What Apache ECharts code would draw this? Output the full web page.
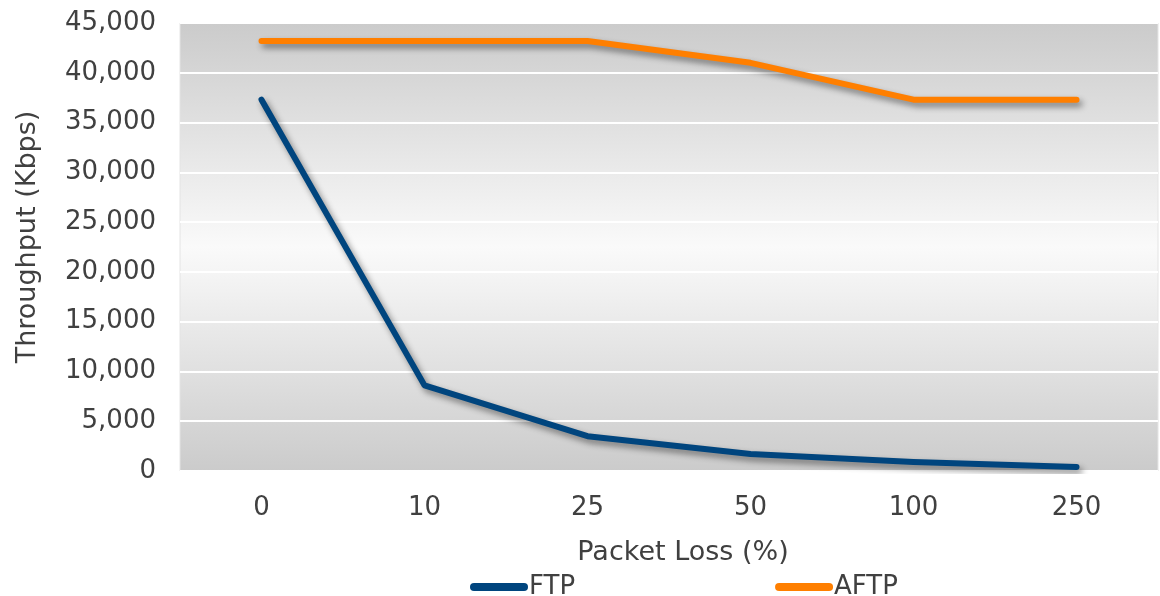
<!DOCTYPE html>
<html><head><meta charset="utf-8">
<script src="https://cdn.jsdelivr.net/npm/echarts@6/dist/echarts.min.js"></script>
<style>html,body{margin:0;padding:0;background:#fff}#c{width:1160px;height:596px}</style>
</head><body><div id="c"></div>
<script>
const categories = ['0', '10', '25', '50', '100', '250'];
const ftp = [37300, 8600, 3500, 1700, 900, 400];
const aftp = [43200, 43200, 43200, 41000, 37300, 37300];
const seriesNames = ['FTP', 'AFTP'];
const yTicks = { min: 0, max: 45000, interval: 5000 };

const chart = echarts.init(document.getElementById('c'), null, { renderer: 'canvas' });
const font = 'DejaVu Sans, Verdana, sans-serif';
const txt = '#404040';
const lineStyleFor = (color) => ({
  color: color, width: 6, cap: 'round', join: 'round',
  shadowColor: 'rgba(0,0,0,0.45)', shadowBlur: 6, shadowOffsetX: 3, shadowOffsetY: 4
});
chart.setOption({
  animation: false,
  grid: {
    left: 180, right: 2, top: 23, bottom: 125,
    show: true, borderColor: '#e4e4e4', borderWidth: 1,
    backgroundColor: {
      type: 'linear', x: 0, y: 0, x2: 0, y2: 1,
      colorStops: [
        { offset: 0, color: '#cbcbcb' },
        { offset: 0.5, color: '#fafafa' },
        { offset: 1, color: '#cbcbcb' }
      ]
    }
  },
  legend: {
    data: seriesNames.map(n => ({ name: n, icon: 'path://M4,0 L54,0 A4,4 0 0 1 54,8 L4,8 A4,4 0 0 1 4,0 Z' })),
    left: 465, top: 569, itemWidth: 58, itemHeight: 8, itemGap: 200,
    textStyle: { fontFamily: font, fontSize: 26, color: txt, padding: [0, 0, 0, -4] }
  },
  xAxis: {
    type: 'category', data: categories, boundaryGap: true,
    name: 'Packet Loss (%)', nameLocation: 'middle', nameGap: 68,
    nameTextStyle: { fontFamily: font, fontSize: 27, color: txt, padding: [0, 0, 0, 28] },
    axisLine: { show: false }, axisTick: { show: false },
    axisLabel: { fontFamily: font, fontSize: 26, color: txt, margin: 24 }
  },
  yAxis: {
    type: 'value', min: yTicks.min, max: yTicks.max, interval: yTicks.interval,
    name: 'Throughput (Kbps)', nameLocation: 'middle', nameGap: 139,
    nameTextStyle: { fontFamily: font, fontSize: 27, color: txt, padding: [0, 0, 0, 20] },
    axisLine: { show: false }, axisTick: { show: false },
    axisLabel: { fontFamily: font, fontSize: 26, color: txt, margin: 24,
      formatter: v => v.toLocaleString('en-US') },
    splitLine: { show: true, lineStyle: { color: '#ffffff', width: 2 } }
  },
  series: [
    { name: seriesNames[0], type: 'line', data: ftp, symbol: 'none', color: '#00457e', lineStyle: lineStyleFor('#00457e') },
    { name: seriesNames[1], type: 'line', data: aftp, symbol: 'none', color: '#ff7f00', lineStyle: lineStyleFor('#ff7f00') }
  ]
});
</script></body></html>
